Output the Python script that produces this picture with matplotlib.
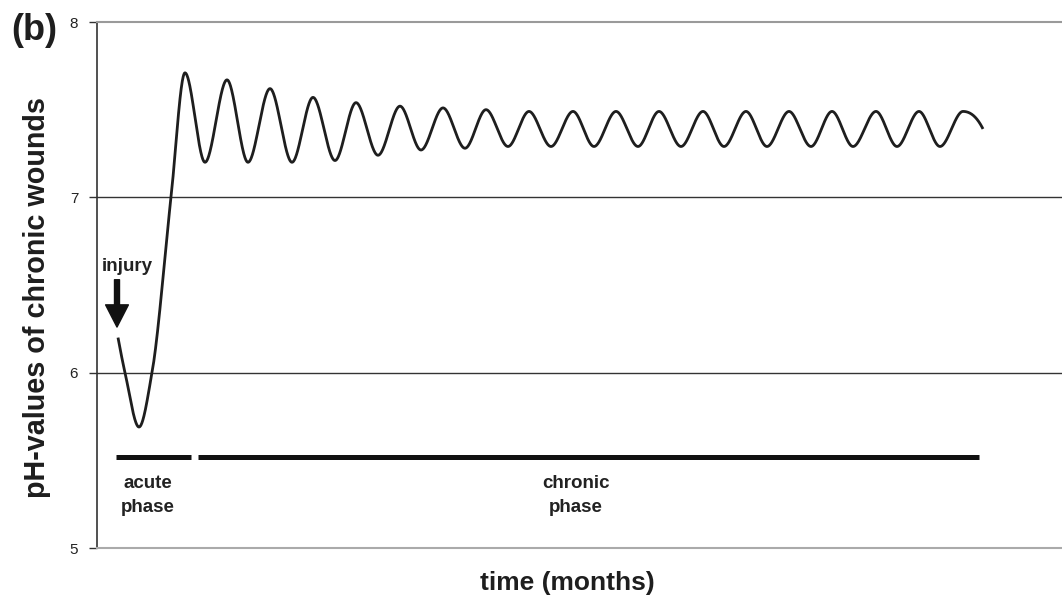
import numpy as np
import matplotlib
matplotlib.use("Agg")
import matplotlib.pyplot as plt

# ---- data (time in arbitrary units, pH values) ----
time_pts = [118, 125, 139, 152, 171, 185, 205, 227, 248, 270, 292, 313, 335,
            356, 378, 400, 421, 443, 465, 486, 508, 529, 551, 573, 594, 616,
            638, 659, 681, 703, 724, 746, 767, 789, 811, 832, 853, 876, 897,
            919, 940, 963, 983]
ph_pts = [6.20, 6.00, 5.69, 6.00, 7.00, 7.71, 7.20, 7.67, 7.20, 7.62, 7.20,
          7.57, 7.21, 7.54, 7.24, 7.52, 7.27, 7.51, 7.28, 7.50, 7.29, 7.49,
          7.29, 7.49, 7.29, 7.49, 7.29, 7.49, 7.29, 7.49, 7.29, 7.49, 7.29,
          7.49, 7.29, 7.49, 7.29, 7.49, 7.29, 7.49, 7.29, 7.49, 7.39]

acute_phase = (116, 191)
chronic_phase = (198, 979)
phase_bar_level = 5.52
yticks = [5, 6, 7, 8]
grid_levels = [6, 7]
injury_time = 117
injury_arrow = (6.53, 6.26)


def pchip(x, y, xs):
    """Monotone cubic Hermite (Fritsch-Carlson) curve through the read points."""
    x = np.asarray(x, float)
    y = np.asarray(y, float)
    h = np.diff(x)
    d = np.diff(y) / h
    n = len(x)
    m = np.zeros(n)
    for k in range(1, n - 1):
        if d[k - 1] * d[k] > 0:
            w1 = 2 * h[k] + h[k - 1]
            w2 = h[k] + 2 * h[k - 1]
            m[k] = (w1 + w2) / (w1 / d[k - 1] + w2 / d[k])

    def end(h0, h1, d0, d1):
        s = ((2 * h0 + h1) * d0 - h0 * d1) / (h0 + h1)
        if np.sign(s) != np.sign(d0):
            s = 0.0
        elif np.sign(d0) != np.sign(d1) and abs(s) > abs(3 * d0):
            s = 3 * d0
        return s

    m[0] = end(h[0], h[1], d[0], d[1])
    m[-1] = end(h[-1], h[-2], d[-1], d[-2])
    idx = np.clip(np.searchsorted(x, xs) - 1, 0, n - 2)
    t = (xs - x[idx]) / h[idx]
    h00 = 2 * t**3 - 3 * t**2 + 1
    h10 = t**3 - 2 * t**2 + t
    h01 = -2 * t**3 + 3 * t**2
    h11 = t**3 - t**2
    return (h00 * y[idx] + h10 * h[idx] * m[idx] + h01 * y[idx + 1]
            + h11 * h[idx] * m[idx + 1])


plt.rcParams['font.family'] = ['Liberation Sans', 'DejaVu Sans']

W, H = 1062, 601
fig = plt.figure(figsize=(W / 100, H / 100), dpi=100)
ax = fig.add_axes([97 / W, 53 / H, (W - 97) / W, (548 - 22) / H])

ax.set_xlim(97, 1062)
ax.set_ylim(5, 8)

# grid lines
for g in grid_levels:
    ax.axhline(g, color='#333333', lw=1.0, zorder=1)

# curve
xs = np.linspace(time_pts[0], time_pts[-1], 3000)
ax.plot(xs, pchip(time_pts, ph_pts, xs), color='#1e1e1e', lw=2.0,
        solid_capstyle='butt', zorder=3)

# phase bars
ax.plot(acute_phase, [phase_bar_level] * 2, color='#111111', lw=3.6,
        solid_capstyle='butt')
ax.plot(chronic_phase, [phase_bar_level] * 2, color='#111111', lw=3.6,
        solid_capstyle='butt')

ax.text(148, 5.30, 'acute\nphase', ha='center', va='center', fontsize=13.5,
        fontweight='bold', color='#222222', linespacing=1.6)
ax.text(576, 5.30, 'chronic\nphase', ha='center', va='center', fontsize=13.5,
        fontweight='bold', color='#222222', linespacing=1.6)

# injury arrow
ax.annotate('', xy=(injury_time, injury_arrow[1]),
            xytext=(injury_time, injury_arrow[0]),
            arrowprops=dict(arrowstyle='simple,head_width=0.82,head_length=0.8,tail_width=0.18',
                            mutation_scale=20, color='#111111',
                            shrinkA=0, shrinkB=0))
ax.text(127.5, 6.58, 'injury', ha='center', va='baseline', fontsize=13.5,
        fontweight='bold', color='#222222')

# spines
ax.spines['right'].set_visible(False)
ax.spines['top'].set_color('#9a9a9a')
ax.spines['top'].set_linewidth(1.5)
ax.spines['bottom'].set_color('#aaaaaa')
ax.spines['bottom'].set_linewidth(1.5)
ax.spines['left'].set_color('#333333')
ax.spines['left'].set_linewidth(1.2)

ax.set_xticks([])
ax.set_yticks(yticks)
ax.set_yticklabels([str(v) for v in yticks])
ax.tick_params(axis='y', direction='out', length=5.5, width=1.0,
               color='#333333', pad=8, labelsize=11, labelcolor='#222222')

# axis labels
fig.text(37 / W, 1 - 298 / H, 'pH-values of chronic wounds', rotation=90,
         ha='center', va='center', fontsize=20.7, fontweight='bold',
         color='#1e1e1e')
fig.text(567 / W, 1 - 583 / H, 'time (months)', ha='center', va='center',
         fontsize=19, fontweight='bold', color='#1e1e1e')
fig.text(11 / W, 1 - 39.5 / H, '(b)', ha='left', va='baseline', fontsize=26,
         fontweight='bold', color='#1e1e1e')

fig.savefig('out.png', dpi=100)
